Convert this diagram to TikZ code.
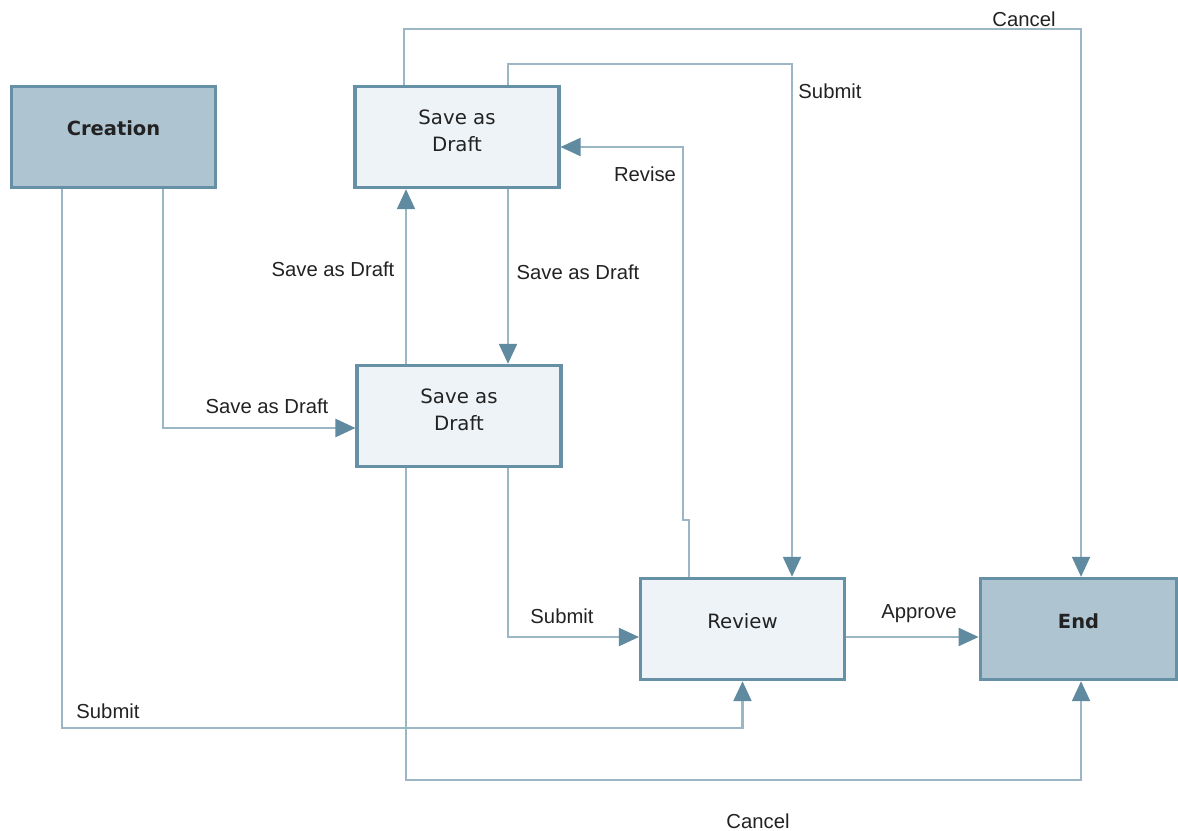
\documentclass[tikz,border=0pt]{standalone}
\usepackage{fontspec}
\setmainfont{Liberation Sans}
\newfontfamily\boxfont{DejaVu Sans}
\usetikzlibrary{arrows.meta}
\definecolor{linec}{HTML}{9BB7C6}
\definecolor{arrc}{HTML}{5F8AA0}
\definecolor{borderc}{HTML}{6690A6}
\definecolor{lightfill}{HTML}{EEF3F7}
\definecolor{darkfill}{HTML}{AEC4D1}
\definecolor{txt}{HTML}{222222}
\tikzset{
  box/.style={draw=borderc, line width=2.3pt, minimum width=153pt, minimum height=76pt,
    inner sep=0pt, align=center, text=txt, font=\boxfont\fontsize{14.8}{20.25}\selectfont},
  lightbox/.style={box, fill=lightfill},
  darkbox/.style={box, fill=darkfill, font=\boxfont\bfseries\fontsize{14.6}{20.25}\selectfont},
  oneline/.style={text height=10.5pt, text depth=12pt},
  twoline/.style={text depth=10pt},
  conn/.style={draw=linec, line width=1.6pt,
    -{Triangle[length=15pt,width=13.5pt,color=arrc,fill=arrc]}},
  lbl/.style={text=txt, font=\fontsize{15.2}{18}\selectfont, inner sep=1pt}
}
\begin{document}
\begin{tikzpicture}[x=0.75pt,y=-0.75pt]
\useasboundingbox (0,0) rectangle (1178,831);
% boxes
\node[darkbox, oneline] (C) at (113.5,137) {Creation};
\node[lightbox, twoline] (A) at (457,137) {Save as\\Draft};
\node[lightbox, twoline] (B) at (459,416) {Save as\\Draft};
\node[lightbox, oneline] (R) at (742.5,629) {Review};
\node[darkbox, oneline, minimum width=147.5pt] (E) at (1078.5,629) {End};
% connectors
\coordinate (c1) at ([xshift=37.125pt]C.south);
\coordinate (c2) at ([xshift=-38.625pt]C.south);
\coordinate (b1) at ([xshift=-39.75pt]B.north);
\coordinate (a1) at ([xshift=38.25pt]A.south);
\coordinate (a2) at ([xshift=-39.75pt]A.north);
\coordinate (a3) at ([xshift=38.25pt]A.north);
\coordinate (r1) at ([xshift=-40.125pt]R.north);
\coordinate (b2) at ([xshift=36.75pt]B.south);
\coordinate (b3) at ([xshift=-39.75pt]B.south);
\draw[conn] (c1) |- ([yshift=-9pt]B.west);
\draw[conn] (c2) -- ++(0,539) -| (R.south);
\draw[conn] (b1) -- (b1 |- A.south);
\draw[conn] (a1) -- (a1 |- B.north);
\draw[conn] (a2) -- ++(0,-56) -| ([xshift=1.9pt]E.north);
\draw[conn] (a3) -- ++(0,-21) -| ([xshift=37.125pt]R.north);
\draw[conn] (r1) -- ++(0,-57) -- ++(-6,0) |- ([yshift=-7.5pt]A.east);
\draw[conn] (b2) |- ([yshift=-6pt]R.west);
\draw[conn] (b3) -- ++(0,312) -| ([xshift=1.9pt]E.south);
\draw[conn] ([yshift=-6pt]R.east) -- ([yshift=-6pt]E.west);
% labels
\node[lbl] (l1) at (267,406) {Save as Draft};
\node[lbl] (l2) at (108,711) {Submit};
\node[lbl] (l3) at (333,269) {Save as Draft};
\node[lbl] (l4) at (578,272) {Save as Draft};
\node[lbl] (l5) at (1024,19) {Cancel};
\node[lbl] (l6) at (830,91) {Submit};
\node[lbl] (l7) at (645,174) {Revise};
\node[lbl] (l8) at (562,616) {Submit};
\node[lbl] (l9) at (758,821) {Cancel};
\node[lbl] (l10) at (919,614) {Approve};
\end{tikzpicture}
\end{document}
